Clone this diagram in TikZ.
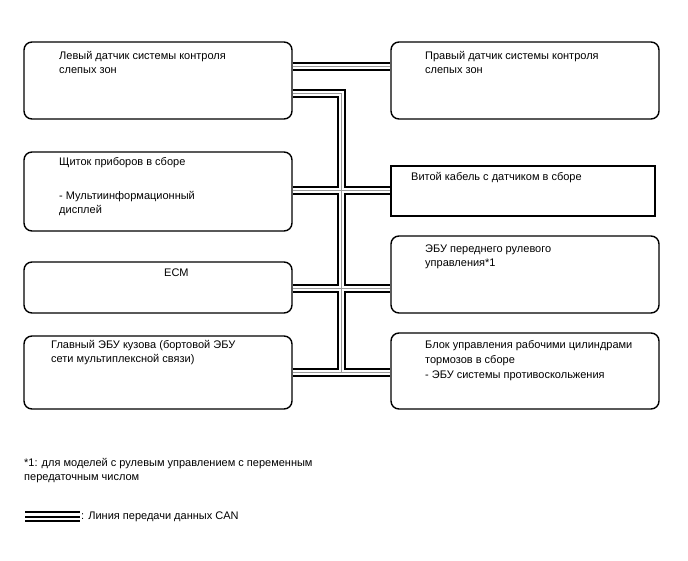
\documentclass[tikz,border=0pt]{standalone}
\usepackage{fontspec}
\setmainfont{Liberation Sans}
\begin{document}
\begin{tikzpicture}[x=1pt,y=-1pt,
  box/.style={draw, line width=1.4pt, rounded corners=8pt, fill=white, minimum width=268pt, inner sep=0pt},
  rbox/.style={draw, line width=1.4pt, fill=white, inner sep=0pt},
  txt/.style={anchor=base west, align=left, inner sep=0pt, font=\fontsize{11}{13.8}\selectfont},
  can/.style={line width=2pt, double=white, double distance=5pt},
  cancore/.style={draw=gray!80, line width=0.9pt},
  legline/.style={line width=2pt}]
\useasboundingbox (0,0) rectangle (688,560);
% boxes
\node[box, minimum height=77pt] (l1) at (158,80.5) {};
\node[box, minimum height=77pt] (r1) at (525,80.5) {};
\node[box, minimum height=79pt] (l2) at (158,191.5) {};
\node[rbox, minimum width=264pt, minimum height=50pt] (r2) at (523,191) {};
\node[box, minimum height=51pt] (l3) at (158,287.5) {};
\node[box, minimum height=77pt] (r3) at (525,274.5) {};
\node[box, minimum height=73pt] (l4) at (158,372.5) {};
\node[box, minimum height=76pt] (r4) at (525,371) {};
% bus
\coordinate (bt) at (341,93);
\coordinate (bb) at (341,372);
\draw[can] (l1.east |- 0,66.5) -- (r1.west |- 0,66.5)
  (l1.east |- 0,93) -- (bt) -- (bb)
  (l2.east |- 0,190) -- (r2.west |- 0,190)
  (l3.east |- 0,288) -- (r3.west |- 0,288)
  (l4.east |- 0,372) -- (r4.west |- 0,372);
\draw[cancore] (l1.east |- 0,66.5) -- (r1.west |- 0,66.5)
  (l1.east |- 0,93) -- (bt) -- (bb)
  (l2.east |- 0,190) -- (r2.west |- 0,190)
  (l3.east |- 0,288) -- (r3.west |- 0,288)
  (l4.east |- 0,372) -- (r4.west |- 0,372);
% texts (base anchor = baseline of the last line)
\node[txt] (tl1) at (59,73.3) {Левый датчик системы контроля\\слепых зон};
\node[txt] (tr1) at (425,73.3) {Правый датчик системы контроля\\слепых зон};
\node[txt] (tl2) at (59,213.1) {Щиток приборов в сборе\\[20pt]- Мультиинформационный\\дисплей};
\node[txt] (tr2) at (411,180.5) {Витой кабель с датчиком в сборе};
\node[txt] (tl3) at (164,276.5) {ECM};
\node[txt] (tr3) at (425,266.3) {ЭБУ переднего рулевого\\управления*1};
\node[txt] (tl4) at (51,362.3) {Главный ЭБУ кузова (бортовой ЭБУ\\сети мультиплексной связи)};
\node[txt, font=\fontsize{11}{15}\selectfont] (tr4) at (425,378.5) {Блок управления рабочими цилиндрами\\тормозов в сборе\\- ЭБУ системы противоскольжения};
\node[txt] (fn) at (24,480.3) {*1: для моделей с рулевым управлением с переменным\\передаточным числом};
% legend
\coordinate (la1) at (25,512); \coordinate (lb1) at (80,512);
\coordinate (la2) at (25,516.5); \coordinate (lb2) at (80,516.5);
\coordinate (la3) at (25,521); \coordinate (lb3) at (80,521);
\draw[legline] (la1) -- (lb1) (la2) -- (lb2) (la3) -- (lb3);
\node[txt] (leg) at (81,519.5) {: Линия передачи данных CAN};
\end{tikzpicture}
\end{document}
